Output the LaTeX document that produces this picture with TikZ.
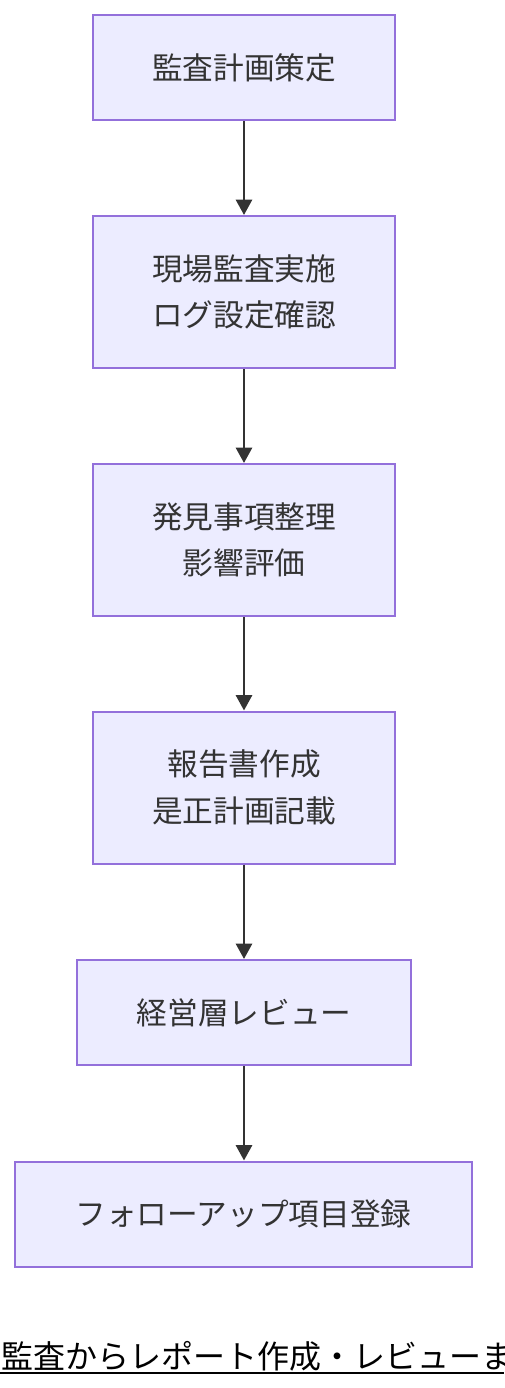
\documentclass[tikz,border=0pt]{standalone}
\usepackage{fontspec}
\setmainfont{Noto Sans CJK JP}
\usetikzlibrary{arrows.meta}
\definecolor{nodefill}{HTML}{ECECFF}
\definecolor{nodeline}{HTML}{9370DB}
\definecolor{txt}{HTML}{333333}
\tikzset{
  stepbox/.style={draw=nodeline, fill=nodefill, line width=1.5pt, text=txt,
    font=\fontsize{23pt}{35pt}\selectfont, align=center, inner sep=0pt},
  flow/.style={draw=txt, line width=2pt, -{Triangle[length=11.5pt,width=12pt]}}
}
\begin{document}
\begin{tikzpicture}[x=0.75pt,y=-0.75pt]
\useasboundingbox (0,0) rectangle (504,1388);
\node[stepbox, minimum width=302*0.75pt, minimum height=105*0.75pt] (a) at (244,67.5) {監査計画策定};
\node[stepbox, minimum width=302*0.75pt, minimum height=152*0.75pt] (b) at (244,292) {現場監査実施\\ログ設定確認};
\node[stepbox, minimum width=302*0.75pt, minimum height=152*0.75pt] (c) at (244,540) {発見事項整理\\影響評価};
\node[stepbox, minimum width=302*0.75pt, minimum height=152*0.75pt] (d) at (244,787.5) {報告書作成\\是正計画記載};
\node[stepbox, minimum width=334*0.75pt, minimum height=105*0.75pt] (e) at (244,1012.5) {経営層レビュー};
\node[stepbox, minimum width=457*0.75pt, minimum height=105*0.75pt] (f) at (243.5,1214) {フォローアップ項目登録};
\draw[flow] (a) -- (b);
\draw[flow] (b) -- (c);
\draw[flow] (c) -- (d);
\draw[flow] (d) -- (e);
\draw[flow] (e.south) -- (e.south |- f.north);
\node[anchor=west, inner sep=0pt, text=black, font=\fontsize{24pt}{28pt}\selectfont] (t) at (1,1356) {監査からレポート作成・レビューま};
\coordinate (u1) at (0,1373);
\coordinate (u2) at (504,1373);
\draw[black, line width=1.5pt] (u1) -- (u2);
\end{tikzpicture}
\end{document}
